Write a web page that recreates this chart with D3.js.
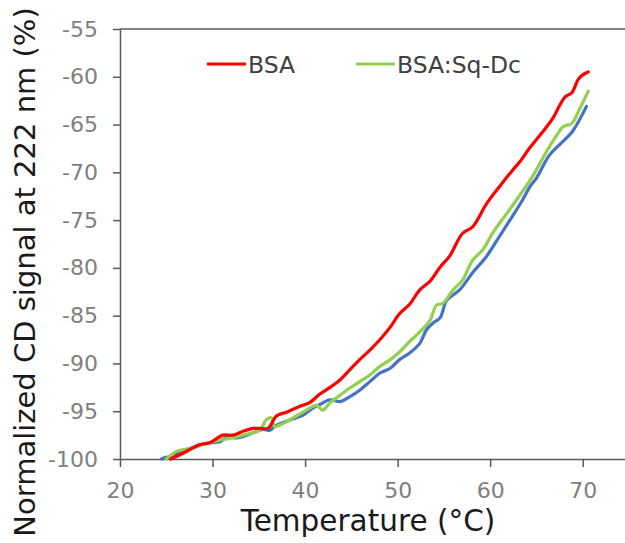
<!DOCTYPE html>
<html>
<head>
<meta charset="utf-8">
<script src="https://cdn.jsdelivr.net/npm/d3@7"></script>
<style>
  html, body { margin: 0; padding: 0; background: #fff; }
  svg { display: block; }
</style>
</head>
<body>
<svg id="chart" width="625" height="543"></svg>
<script>
// Thermal unfolding of BSA followed by CD at 222 nm
const bsaTemp = [25.5, 26.8, 28.6, 29.7, 31.1, 32.2, 33.3, 34.4, 35.1, 36.0, 36.9, 38.0, 39.4, 40.5, 41.6, 42.7, 43.8, 44.8, 45.9, 47.0, 48.1, 49.2, 50.2, 51.3, 52.4, 53.5, 54.6, 55.6, 57.0, 58.1, 59.6, 61.0, 62.4, 63.2, 64.3, 65.4, 66.8, 67.5, 68.1, 68.8, 69.5, 70.0, 70.6];
const bsaSignal = [-100, -99.4, -98.5, -98.3, -97.5, -97.5, -97.1, -96.8, -96.8, -96.8, -95.5, -95.1, -94.5, -94.1, -93.2, -92.5, -91.7, -90.7, -89.6, -88.6, -87.5, -86.2, -84.8, -83.8, -82.3, -81.4, -79.9, -78.8, -76.4, -75.7, -73.3, -71.5, -69.8, -68.9, -67.4, -66.1, -64.3, -63.0, -62.1, -61.7, -60.3, -59.8, -59.5];

const sqTemp = [25.0, 26.1, 27.6, 29.0, 30.8, 31.5, 32.6, 33.7, 35.1, 35.8, 36.4, 36.7, 37.6, 38.7, 39.8, 40.8, 41.3, 41.9, 42.7, 43.8, 44.8, 45.9, 47.0, 48.1, 49.2, 50.2, 51.3, 52.4, 53.5, 54.2, 54.9, 56.0, 57.0, 58.1, 59.2, 60.3, 61.8, 63.2, 64.6, 66.1, 67.2, 67.9, 68.8, 69.7, 70.6];
const sqSignal = [-100, -99.2, -98.9, -98.5, -98.0, -97.9, -97.7, -97.4, -97.0, -95.9, -95.7, -96.6, -96.3, -95.7, -95.1, -94.5, -94.4, -94.9, -94.1, -93.3, -92.6, -91.9, -91.2, -90.3, -89.6, -88.8, -87.7, -86.7, -85.5, -83.9, -83.7, -82.3, -81.3, -79.2, -78.1, -76.3, -74.3, -72.4, -70.4, -67.8, -66.1, -65.2, -64.9, -63.3, -61.5];

const thirdTemp = [24.5, 25.0, 25.6, 26.5, 27.6, 28.6, 29.7, 30.8, 31.5, 32.6, 33.7, 34.8, 35.5, 36.2, 36.7, 37.6, 38.7, 39.8, 40.8, 41.6, 42.7, 43.8, 44.8, 45.9, 47.0, 48.1, 49.2, 50.2, 51.3, 52.4, 53.1, 53.8, 54.6, 55.3, 56.7, 58.1, 59.6, 61.0, 62.4, 63.5, 64.3, 65.0, 66.4, 67.5, 68.9, 70.4];
const thirdSignal = [-100, -99.8, -99.9, -99.2, -98.9, -98.5, -98.3, -98.2, -97.7, -97.8, -97.5, -97.1, -96.9, -97.0, -96.6, -96.2, -95.8, -95.4, -94.7, -94.3, -93.8, -94.0, -93.5, -92.8, -91.9, -91.0, -90.5, -89.6, -88.9, -87.9, -86.5, -85.8, -85.2, -83.4, -82.3, -80.5, -78.8, -76.7, -74.6, -72.9, -71.5, -70.6, -68.2, -67.1, -65.7, -63.1];

const xTicks = [20, 30, 40, 50, 60, 70];
const yTicks = [-55, -60, -65, -70, -75, -80, -85, -90, -95, -100];
const legendNames = ["BSA", "BSA:Sq-Dc"];
const seriesColors = ["#ff0000", "#92d050", "#4472c4"];

const FONT = "'DejaVu Sans', sans-serif";
const svg = d3.select("#chart");

// Plot frame: left edge at 120, bottom at 459; the right side runs past the window
const x = d3.scaleLinear().domain([20, 75]).range([120, 629]);
const y = d3.scaleLinear().domain([-100, -55]).range([459, 29]);

const axisColor = "#595959";
const plainNumber = d => String(d); // keeps an ASCII hyphen for negatives

// Top frame line
svg.append("line")
  .attr("x1", x(20)).attr("x2", x(75))
  .attr("y1", y(-55)).attr("y2", y(-55))
  .attr("stroke", axisColor).attr("stroke-width", 1.5);

// X axis
const xAxis = svg.append("g")
  .attr("transform", `translate(0,${y(-100)})`)
  .call(d3.axisBottom(x).tickValues(xTicks).tickFormat(plainNumber)
    .tickSize(8).tickSizeOuter(0).tickPadding(10));
// Y axis
const yAxis = svg.append("g")
  .attr("transform", `translate(${x(20)},0)`)
  .call(d3.axisLeft(y).tickValues(yTicks).tickFormat(plainNumber)
    .tickSize(7).tickSizeOuter(0).tickPadding(15));

[xAxis, yAxis].forEach(g => {
  g.select(".domain").attr("stroke", axisColor).attr("stroke-width", 1.5);
  g.selectAll(".tick line").attr("stroke", axisColor).attr("stroke-width", 1.5);
  g.selectAll(".tick text")
    .attr("fill", "#7f7f7f")
    .style("font-family", FONT)
    .style("font-size", "22px");
});
xAxis.selectAll(".tick text").attr("dy", "0.95em");

// Series lines
const line = d3.line()
  .x(d => x(d[0]))
  .y(d => y(d[1]))
  .curve(d3.curveCatmullRom.alpha(0.5));

const series = [
  d3.zip(thirdTemp, thirdSignal),
  d3.zip(sqTemp, sqSignal),
  d3.zip(bsaTemp, bsaSignal)
];
const order = [2, 1, 0];
series.forEach((s, i) => {
  svg.append("path")
    .datum(s)
    .attr("fill", "none")
    .attr("stroke", seriesColors[order[i]])
    .attr("stroke-width", 3.2)
    .attr("stroke-linejoin", "round")
    .attr("stroke-linecap", "round")
    .attr("d", line);
});

// Legend
const legendX = [207, 356];
legendNames.forEach((name, i) => {
  svg.append("line")
    .attr("x1", legendX[i]).attr("x2", legendX[i] + 39)
    .attr("y1", 64).attr("y2", 64)
    .attr("stroke", seriesColors[i]).attr("stroke-width", 3);
  svg.append("text")
    .attr("x", legendX[i] + 41).attr("y", 73)
    .attr("fill", "#404040")
    .style("font-family", FONT)
    .style("font-size", "23.5px")
    .text(name);
});

// Axis titles
svg.append("text")
  .attr("x", 368).attr("y", 531)
  .attr("text-anchor", "middle")
  .attr("fill", "#1a1a1a")
  .style("font-family", FONT)
  .style("font-size", "29.5px")
  .text("Temperature (°C)");

svg.append("text")
  .attr("transform", "translate(35,272) rotate(-90)")
  .attr("text-anchor", "middle")
  .attr("fill", "#1a1a1a")
  .style("font-family", FONT)
  .style("font-size", "29px")
  .text("Normalized CD signal at 222 nm (%)");
</script>
</body>
</html>
